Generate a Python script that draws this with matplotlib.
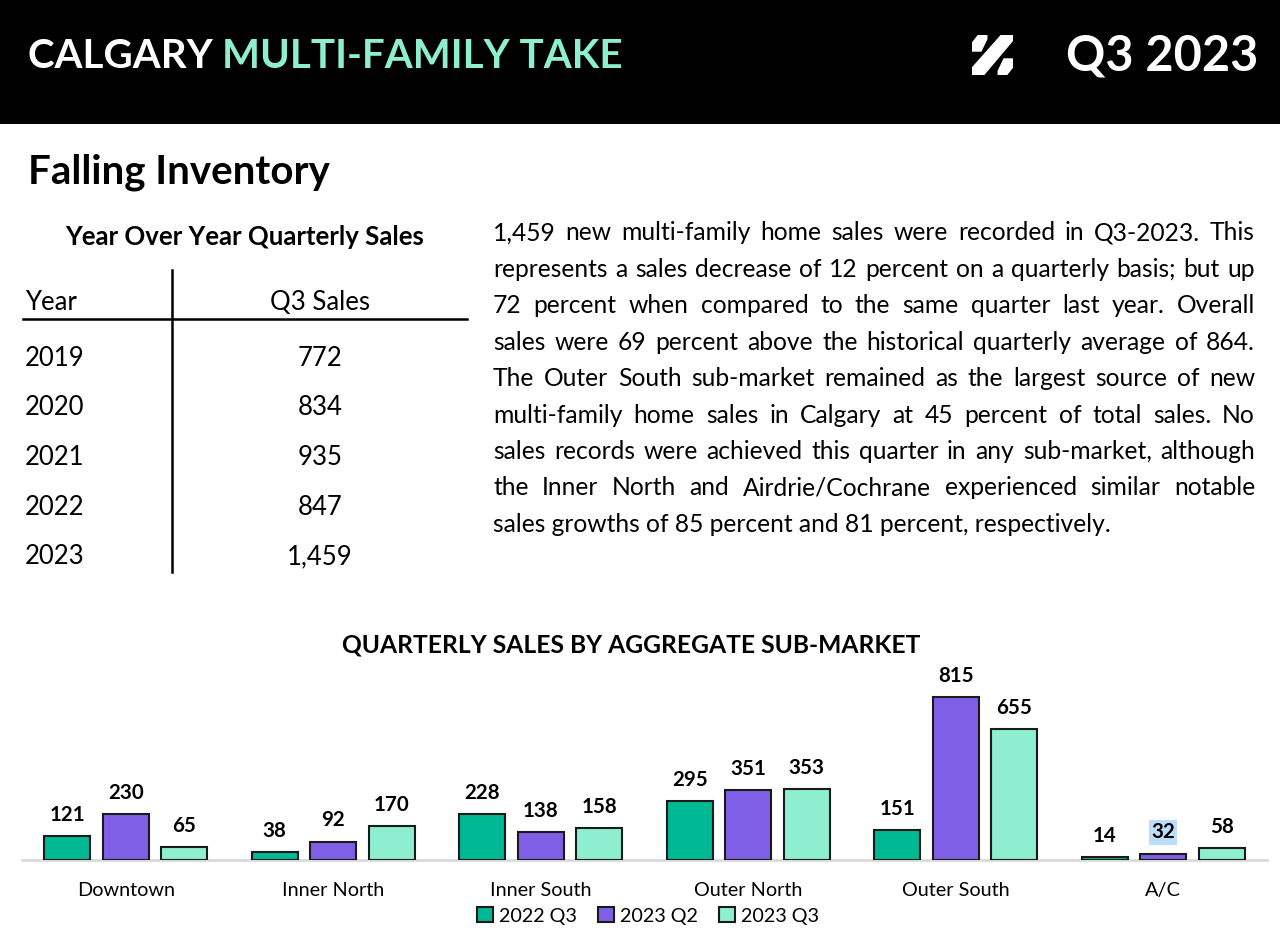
import numpy as np
import matplotlib.pyplot as plt
from matplotlib.patches import Rectangle, Polygon, Patch

plt.rcParams['font.family'] = ['Lato', 'DejaVu Sans']

# 表格数据
years = ['2019', '2020', '2021', '2022', '2023']
q3_sales = ['772', '834', '935', '847', '1,459']

# 柱状图数据
markets = ['Downtown', 'Inner North', 'Inner South', 'Outer North', 'Outer South', 'A/C']
series_names = ['2022 Q3', '2023 Q2', '2023 Q3']
sales_2022_q3 = [121, 38, 228, 295, 151, 14]
sales_2023_q2 = [230, 92, 138, 351, 815, 32]
sales_2023_q3 = [65, 170, 158, 353, 655, 58]
colors = ['#00B894', '#7F5FE6', '#8EEFD0']

paragraph = [
    "1,459 new multi-family home sales were recorded in Q3-2023. This",
    "represents a sales decrease of 12 percent on a quarterly basis; but up",
    "72 percent when compared to the same quarter last year. Overall",
    "sales were 69 percent above the historical quarterly average of 864.",
    "The Outer South sub-market remained as the largest source of new",
    "multi-family home sales in Calgary at 45 percent of total sales. No",
    "sales records were achieved this quarter in any sub-market, although",
    "the Inner North and Airdrie/Cochrane experienced similar notable",
    "sales growths of 85 percent and 81 percent, respectively.",
]

W, H = 1280, 933
fig = plt.figure(figsize=(W / 100, H / 100), dpi=100)
r = fig.canvas.get_renderer()


def fx(px):
    return px / W


def fy(py):
    return 1 - py / H


# 顶部黑色标题栏
fig.patches.append(Rectangle((0, fy(124)), 1, 124 / H, transform=fig.transFigure,
                             facecolor='black', edgecolor='none', zorder=-5))
t1 = fig.text(fx(28), fy(56), 'CALGARY ', color='white', fontsize=29,
              fontweight='bold', va='center', ha='left')
w1 = t1.get_window_extent(r).width
fig.text(fx(28 + w1), fy(56), 'MULTI-FAMILY TAKE', color='#8EEFD0', fontsize=29,
         fontweight='bold', va='center', ha='left')
fig.text(fx(1258), fy(56), 'Q3 2023', color='white', fontsize=35,
         fontweight='bold', va='center', ha='right')

# logo
logo = fig.add_axes([fx(972), fy(75), fx(41), 40 / H])
logo.set_xlim(0, 1)
logo.set_ylim(0, 1)
logo.axis('off')
logo.add_patch(Polygon([[0, 0.79], [0.16, 1], [0.36, 1], [0.36, 0.9], [0.22, 0.6], [0, 0.6]], color='white'))
logo.add_patch(Polygon([[0.72, 1], [1, 1], [1, 0.875], [0.28, 0], [0, 0], [0, 0.17]], color='white'))
logo.add_patch(Polygon([[1, 0.21], [0.84, 0], [0.64, 0], [0.64, 0.1], [0.78, 0.4], [1, 0.4]], color='white'))

fig.text(fx(28), fy(172), 'Falling Inventory', fontsize=29, fontweight='bold',
         va='center', ha='left')

# 表格
fig.text(fx(245), fy(237), 'Year Over Year Quarterly Sales', fontsize=18.5,
         fontweight='bold', va='center', ha='center')
fig.text(fx(25), fy(302), 'Year', fontsize=18.5, va='center', ha='left')
fig.text(fx(320), fy(302), 'Q3 Sales', fontsize=18.5, va='center', ha='center')
fig.add_artist(plt.Line2D([fx(23), fx(467)], [fy(319), fy(319)], color='black', lw=1.8))
fig.add_artist(plt.Line2D([fx(172), fx(172)], [fy(270), fy(572)], color='black', lw=1.8))
for i, (yr, s) in enumerate(zip(years, q3_sales)):
    yy = fy(358 + i * 49.7)
    fig.text(fx(25), yy, yr, fontsize=18.5, va='center', ha='left')
    fig.text(fx(320), yy, s, fontsize=18.5, va='center', ha='center')

# 两端对齐的段落
x0, x1 = 493, 1255
fs = 17.7
for i, line in enumerate(paragraph):
    yy = fy(233 + i * 36.4)
    words = line.split()
    if i == len(paragraph) - 1:
        fig.text(fx(x0), yy, line, fontsize=fs, va='center', ha='left')
        continue
    ts = [fig.text(0, yy, w, fontsize=fs, va='center', ha='left') for w in words]
    widths = [t.get_window_extent(r).width for t in ts]
    gap = (x1 - x0 - sum(widths)) / (len(words) - 1)
    x = x0
    for t, w in zip(ts, widths):
        t.set_x(fx(x))
        x += w + gap

# 柱状图
fig.text(fx(631), fy(645), 'QUARTERLY SALES BY AGGREGATE SUB-MARKET', fontsize=17.7,
         fontweight='bold', va='center', ha='center')
ax = fig.add_axes([fx(22), fy(860), fx(1245), 180 / H])
x = np.arange(len(markets))
width = 0.222
offsets = [-0.282, 0, 0.282]
for vals, off, c, name in zip([sales_2022_q3, sales_2023_q2, sales_2023_q3], offsets, colors, series_names):
    bars = ax.bar(x + off, vals, width, color=c, edgecolor='#1a1a1a', linewidth=1.5, label=name)
    for b, v in zip(bars, vals):
        kw = {}
        if name == '2023 Q2' and v == 32:
            kw['bbox'] = dict(boxstyle='square,pad=0.1', facecolor='#BBDDFA', edgecolor='none')
        ax.annotate(str(v), (b.get_x() + b.get_width() / 2, v), xytext=(0, 8),
                    textcoords='offset points', ha='center', va='bottom',
                    fontsize=14.8, fontweight='bold', **kw)
ax.set_xlim(-0.5, len(markets) - 0.5)
ax.set_ylim(0, 900)
ax.axhline(0, color='#d9d9d9', lw=2, zorder=0, clip_on=False)
for s in ax.spines.values():
    s.set_visible(False)
ax.set_yticks([])
ax.set_xticks(x)
ax.set_xticklabels(markets, fontsize=14.3)
ax.tick_params(axis='x', length=0, pad=16)

handles = [Patch(facecolor=c, edgecolor='#1a1a1a', linewidth=1.5) for c in colors]
fig.legend(handles, series_names, loc='center', bbox_to_anchor=(fx(648), fy(916)), ncol=3,
           frameon=False, fontsize=14.2, handlelength=0.8, handleheight=0.8,
           handletextpad=0.3, columnspacing=1.1)

fig.savefig('out.png', dpi=100)
